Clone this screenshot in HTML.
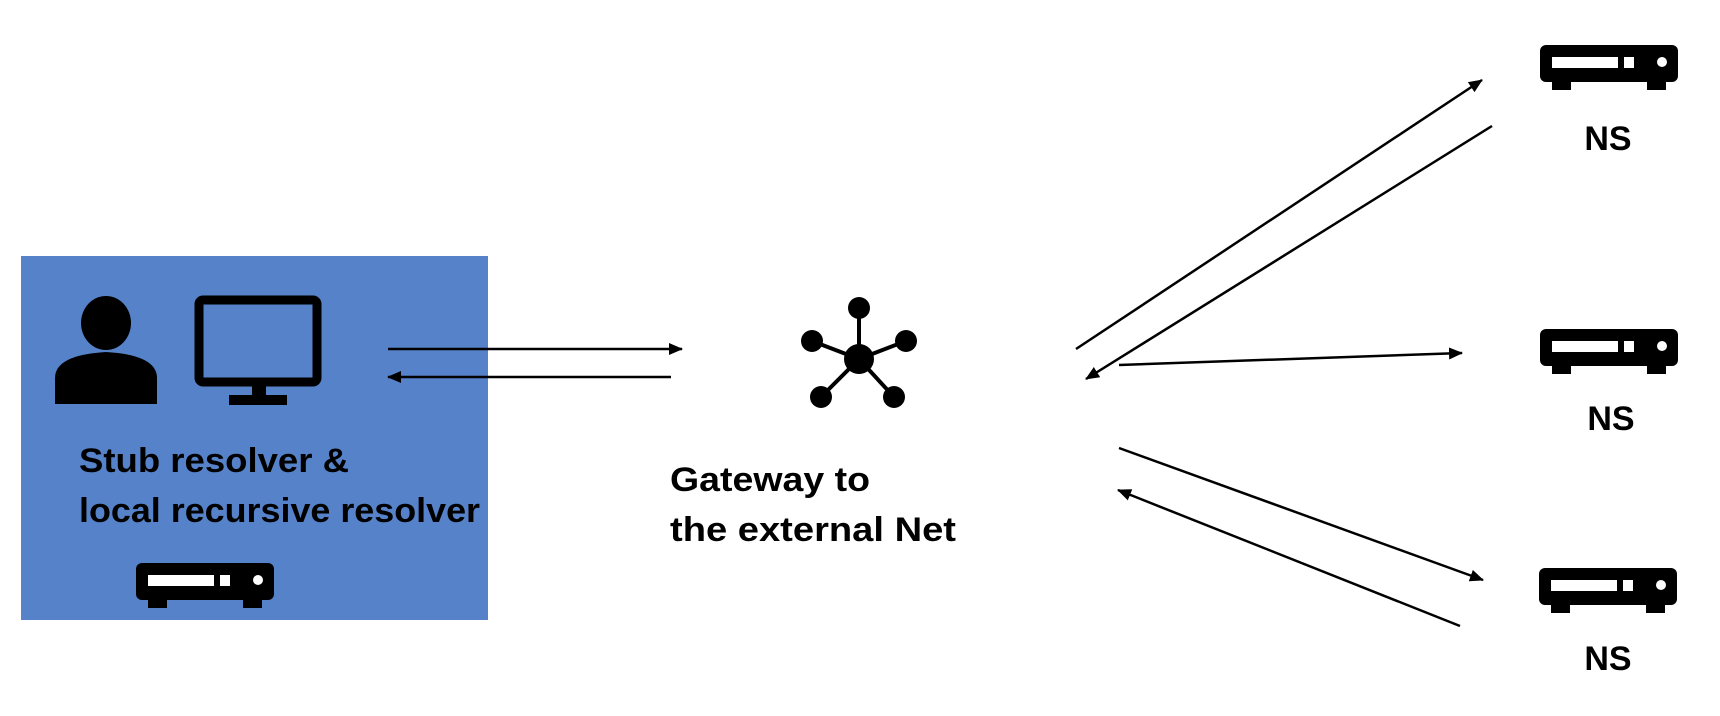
<!DOCTYPE html>
<html><head><meta charset="utf-8"><style>
html,body{margin:0;padding:0;background:#fff;}
svg{display:block;}
text{font-family:"Liberation Sans",sans-serif;font-weight:bold;fill:#000;}
</style></head><body>
<svg width="1720" height="716" viewBox="0 0 1720 716" xmlns="http://www.w3.org/2000/svg">
<defs>
<marker id="ah" markerWidth="14" markerHeight="12" refX="13" refY="6" orient="auto" markerUnits="userSpaceOnUse">
<path d="M0,0 L14,6 L0,12 Z" fill="#000"/>
</marker>
<g id="srv">
<rect x="0" y="0" width="138" height="37" rx="6" fill="#000"/>
<rect x="12" y="12" width="66" height="11" fill="#fff"/>
<rect x="84" y="12" width="10" height="11" fill="#fff"/>
<circle cx="122" cy="17" r="5" fill="#fff"/>
<rect x="12" y="34" width="19" height="11" fill="#000"/>
<rect x="107" y="34" width="19" height="11" fill="#000"/>
</g>
</defs>
<rect x="21" y="256" width="467" height="364" fill="#5682C9"/>
<ellipse cx="106" cy="323" rx="25" ry="27" fill="#000"/>
<path d="M55,404 L55,378 Q55,355 106,352 Q157,355 157,378 L157,404 Z" fill="#000"/>
<rect x="199" y="300" width="118" height="82" rx="4" fill="none" stroke="#000" stroke-width="9"/>
<rect x="252" y="384" width="14" height="12" fill="#000"/>
<rect x="229" y="395" width="58" height="10" fill="#000"/>
<text x="79" y="472" font-size="34" textLength="270" lengthAdjust="spacingAndGlyphs">Stub resolver &amp;</text>
<text x="79" y="522" font-size="34" textLength="401" lengthAdjust="spacingAndGlyphs">local recursive resolver</text>
<use href="#srv" x="136" y="563"/>
<line x1="388" y1="349" x2="682" y2="349" stroke="#000" stroke-width="2.5" marker-end="url(#ah)"/>
<line x1="671" y1="377" x2="388" y2="377" stroke="#000" stroke-width="2.5" marker-end="url(#ah)"/>
<g stroke="#000" stroke-width="4">
<line x1="859" y1="359" x2="859" y2="308"/>
<line x1="859" y1="359" x2="812" y2="341"/>
<line x1="859" y1="359" x2="906" y2="341"/>
<line x1="859" y1="359" x2="821" y2="397"/>
<line x1="859" y1="359" x2="894" y2="397"/>
</g>
<circle cx="859" cy="359" r="15" fill="#000"/>
<circle cx="859" cy="308" r="11" fill="#000"/>
<circle cx="812" cy="341" r="11" fill="#000"/>
<circle cx="906" cy="341" r="11" fill="#000"/>
<circle cx="821" cy="397" r="11" fill="#000"/>
<circle cx="894" cy="397" r="11" fill="#000"/>
<text x="670" y="491" font-size="34" textLength="200" lengthAdjust="spacingAndGlyphs">Gateway to</text>
<text x="670" y="541" font-size="34" textLength="286" lengthAdjust="spacingAndGlyphs">the external Net</text>
<g stroke="#000" stroke-width="2.5">
<line x1="1076" y1="349" x2="1482" y2="80" marker-end="url(#ah)"/>
<line x1="1492" y1="126" x2="1086" y2="379" marker-end="url(#ah)"/>
<line x1="1119" y1="365" x2="1462" y2="353" marker-end="url(#ah)"/>
<line x1="1119" y1="448" x2="1483" y2="580" marker-end="url(#ah)"/>
<line x1="1460" y1="626" x2="1118" y2="490" marker-end="url(#ah)"/>
</g>
<use href="#srv" x="1540" y="45"/>
<use href="#srv" x="1540" y="329"/>
<use href="#srv" x="1539" y="568"/>
<text x="1608" y="150" font-size="34" text-anchor="middle">NS</text>
<text x="1611" y="430" font-size="34" text-anchor="middle">NS</text>
<text x="1608" y="670" font-size="34" text-anchor="middle">NS</text>
</svg>
</body></html>
